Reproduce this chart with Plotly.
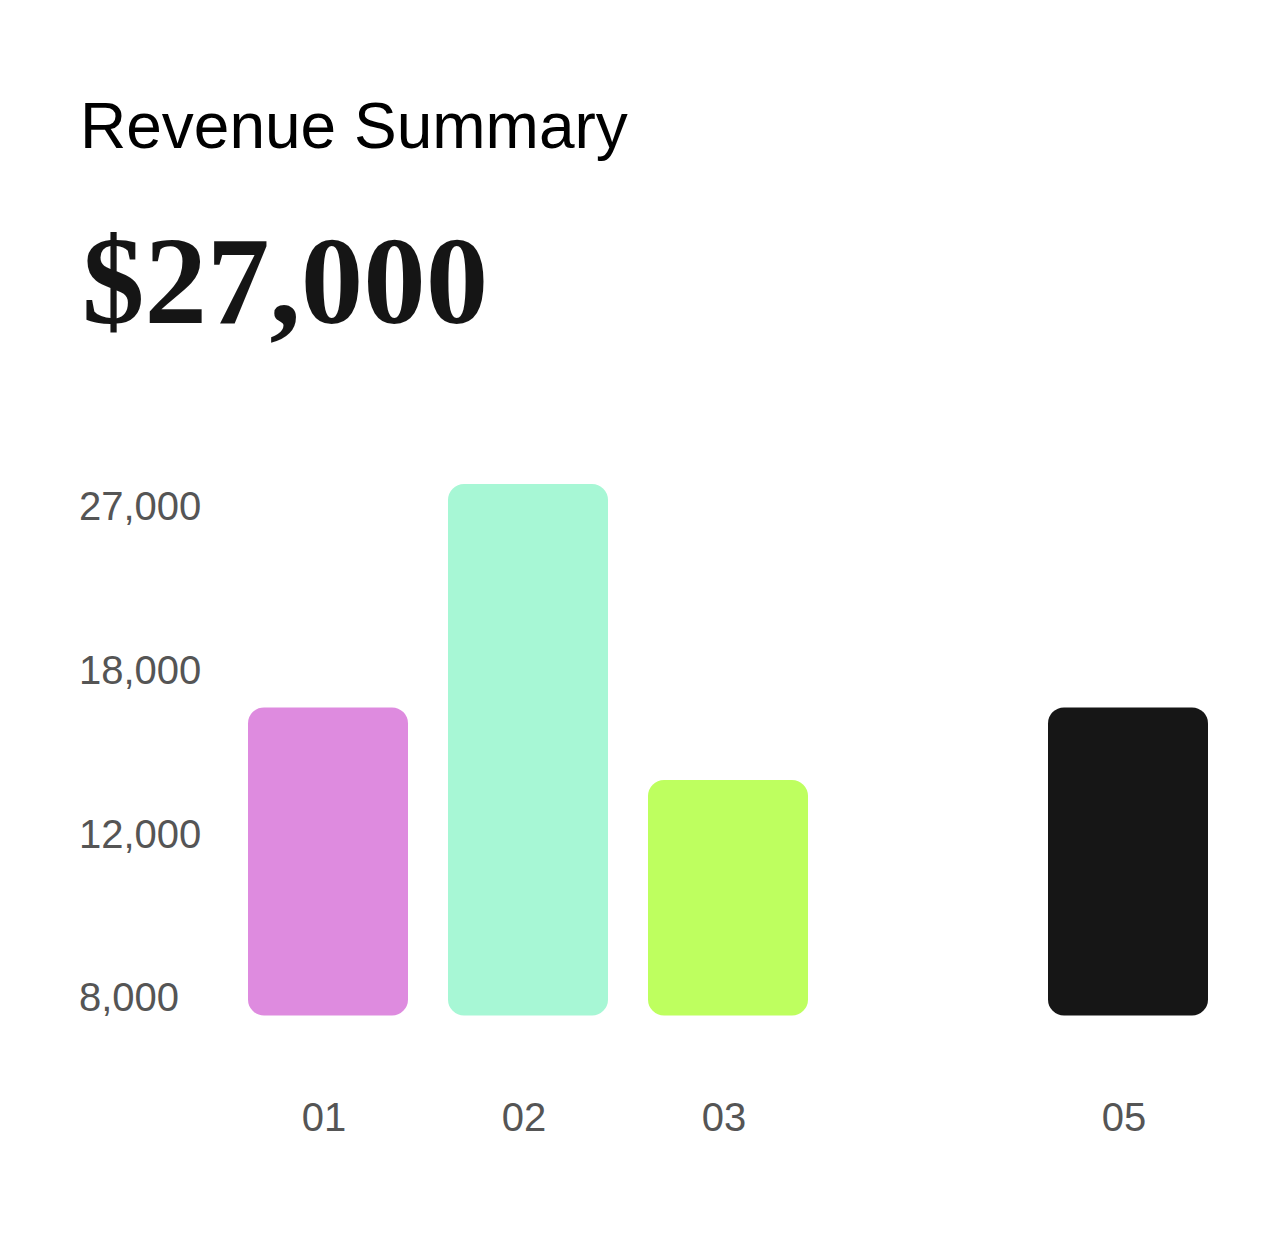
import math
import plotly.graph_objects as go

# ---- data ----
TITLE = "Revenue Summary"
HEADLINE = "$27,000"
PERIODS = ["01", "02", "03", "05"]
REVENUE = [16400, 28500, 13700, 16400]
COLORS = ["#DE8BDF", "#A7F7D5", "#BEFF5F", "#161616"]
Y_TICKS = [8000, 12000, 18000, 27000]
Y_TICK_LABELS = ["8,000", "12,000", "18,000", "27,000"]
BAR_BASE = 7650
Y_AXIS_MIN, Y_AXIS_MAX = 7200, 33400

# ---- derived ----
x = [int(p) for p in PERIODS]

fig = go.Figure()
fig.add_bar(
    x=x, base=BAR_BASE, y=[v - BAR_BASE for v in REVENUE],
    width=0.8, marker=dict(color=COLORS, cornerradius=16, line_width=0),
    customdata=REVENUE, hovertemplate="%{customdata:,}<extra></extra>",
    showlegend=False,
)

fig.add_annotation(
    text=HEADLINE, xref="paper", yref="paper", x=0, y=1.2242,
    xanchor="left", yanchor="middle", showarrow=False,
    font=dict(family="Liberation Serif", size=125, color="#151515", weight="bold"),
)

fig.update_layout(
    width=1288, height=1256,
    margin=dict(l=80, r=80, t=420, b=216, autoexpand=False),
    paper_bgcolor="white", plot_bgcolor="white",
    title=dict(
        text=TITLE, xref="container", yref="container",
        x=80 / 1288, xanchor="left", y=1 - 103 / 1256, yanchor="top",
        font=dict(family="Liberation Sans", size=64, color="#000000"),
    ),
    xaxis=dict(
        range=[-0.24, 5.4], tickvals=x, ticktext=PERIODS,
        showgrid=False, zeroline=False, showline=False, ticks="",
        tickfont=dict(family="Liberation Sans", size=40, color="#555555"),
        ticklabelstandoff=50, ticklabelshift=-4, fixedrange=True,
    ),
    yaxis=dict(
        type="log", range=[math.log10(Y_AXIS_MIN), math.log10(Y_AXIS_MAX)],
        tickvals=Y_TICKS, ticktext=Y_TICK_LABELS, ticklabelposition="inside",
        ticklabelstandoff=-4,
        showgrid=False, zeroline=False, showline=False, ticks="",
        tickfont=dict(family="Liberation Sans", size=40, color="#555555"),
        fixedrange=True,
    ),
    font=dict(family="Liberation Sans"),
)

fig.write_html("out.html", post_script="document.body.style.margin='0';",
               config={"displayModeBar": False})
